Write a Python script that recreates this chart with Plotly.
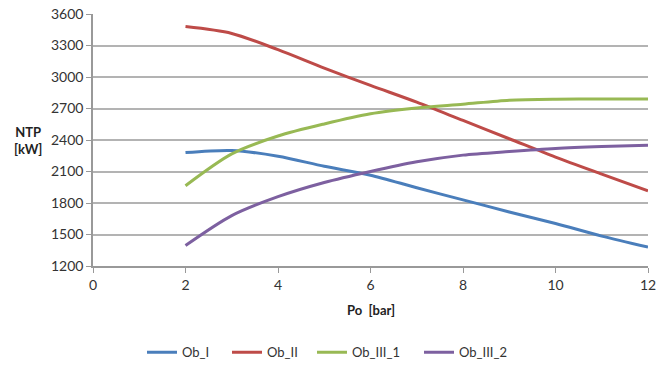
import plotly.graph_objects as go

po = [2, 3, 4, 5, 6, 7, 8, 9, 10, 11, 12]
ob_i = [2280, 2300, 2245, 2150, 2065, 1945, 1830, 1715, 1605, 1485, 1380]
ob_ii = [3480, 3415, 3260, 3085, 2920, 2760, 2586, 2412, 2237, 2075, 1916]
ob_iii_1 = [1965, 2268, 2438, 2553, 2650, 2705, 2741, 2779, 2789, 2790, 2790]
ob_iii_2 = [1395, 1680, 1860, 1995, 2100, 2192, 2256, 2290, 2319, 2337, 2350]

series = [
    ("Ob_I", ob_i, "#4A7EBB"),
    ("Ob_II", ob_ii, "#BE4B48"),
    ("Ob_III_1", ob_iii_1, "#98B954"),
    ("Ob_III_2", ob_iii_2, "#7D60A0"),
]

x_ticks = [0, 2, 4, 6, 8, 10, 12]
y_ticks = [1200, 1500, 1800, 2100, 2400, 2700, 3000, 3300, 3600]

legend_ids = ["legend", "legend2", "legend3", "legend4"]
legend_left_px = [142, 227, 312, 419]
W, H = 657, 367

fig = go.Figure()
for (name, vals, color), lid in zip(series, legend_ids):
    fig.add_trace(go.Scatter(
        x=po, y=vals, name=name, mode="lines", legend=lid,
        line=dict(color=color, width=3, shape="spline", smoothing=0.8),
    ))

legend_common = dict(orientation="h", xref="container", yref="container",
                     xanchor="left", y=0.04, yanchor="middle",
                     font=dict(size=13, color="#333333"), itemwidth=30,
                     bgcolor="rgba(0,0,0,0)", borderwidth=0)

font_family = "Lato, Open Sans, sans-serif"
layout_legends = {lid: dict(legend_common, x=px / W) for lid, px in zip(legend_ids, legend_left_px)}

fig.update_layout(
    width=W, height=H,
    margin=dict(l=93, r=9, t=14, b=101, autoexpand=False),
    paper_bgcolor="white", plot_bgcolor="white",
    font=dict(family=font_family, size=14, color="#333333"),
    showlegend=True,
    xaxis=dict(range=[0, 12], tickvals=x_ticks, showgrid=False,
               showline=True, linecolor="#999999", linewidth=1.5,
               ticks="outside", ticklen=5, tickcolor="#999999", zeroline=False,
               tickfont=dict(size=14), automargin=False),
    yaxis=dict(range=[1200, 3600], tickvals=y_ticks, showgrid=True,
               gridcolor="#b3b3b3", gridwidth=1.5,
               showline=True, linecolor="#999999", linewidth=1.5,
               ticks="outside", ticklen=5, tickcolor="#999999", zeroline=False,
               tickfont=dict(size=14), automargin=False),
    annotations=[
        dict(text="<b>NTP<br>[kW]</b>", xref="paper", yref="paper",
             x=-0.118, y=0.5, xanchor="center", yanchor="middle",
             showarrow=False, font=dict(size=13, color="#222222"), align="center"),
        dict(text="<b>Po  [bar]</b>", xref="paper", yref="paper",
             x=0.5, y=-0.175, xanchor="center", yanchor="middle",
             showarrow=False, font=dict(size=13, color="#222222")),
    ],
    **layout_legends,
)

fig.write_html("out.html", config={"displayModeBar": False},
               post_script="document.body.style.margin='0';")
